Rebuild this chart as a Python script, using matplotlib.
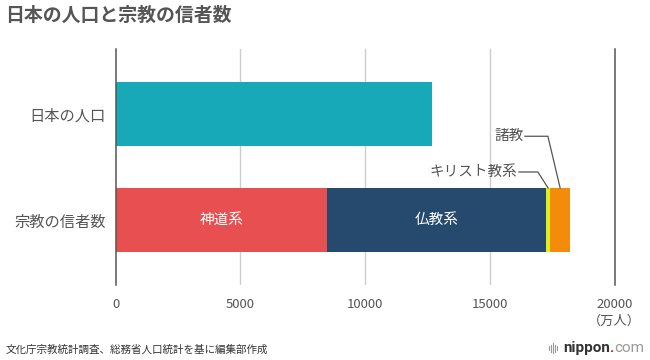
import matplotlib
matplotlib.use("Agg")
import matplotlib.pyplot as plt
from matplotlib.lines import Line2D
import numpy as np

plt.rcParams['font.family'] = ['Noto Sans CJK JP', 'DejaVu Sans']

# データ（万人）
categories = ['宗教の信者数', '日本の人口']
population = 12693
religion_names = ['神道系', '仏教系', 'キリスト教系', '諸教']
religion_values = [8473, 8770, 191, 773]
xticks = [0, 5000, 10000, 15000, 20000]
xtick_labels = ['0', '5000', '10000', '15000', '20000\n（万人）']

colors = ['#E84F50', '#254A6E', '#E2EE1C', '#F38B0B']
teal = '#17A9B8'
gray = '#555555'

fig = plt.figure(figsize=(6.5, 3.6), dpi=100)
ax = fig.add_axes([0.1777, 0.2083, 0.7677, 0.6556])

h = 0.604
ax.barh(1, population, height=h, color=teal)
left = 0
for name, v, c in zip(religion_names, religion_values, colors):
    ax.barh(0, v, left=left, height=h, color=c)
    if v > 3000:
        ax.text(left + v / 2, 0, name, color='white', ha='center', va='center', fontsize=10.5)
    left += v

# 小さい区分の引き出し線
cum = np.cumsum([0] + religion_values)
leaders = [(2, 0.453, 410, 760), (3, 0.79, 490, 920)]
for i, ty, dx, tx in leaders:
    ax_x = cum[i] + religion_values[i] / 2
    ex = ax_x - dx
    sx = ex - tx
    ax.plot([sx, ex, ax_x], [ty, ty, h / 2], color=gray, lw=0.9, clip_on=False)
    ax.text(sx - 70, ty, religion_names[i], ha='right', va='center', fontsize=10.5, color=gray)

ax.set_xlim(0, 20000)
ax.set_ylim(-0.613, 1.613)
ax.set_xticks(xticks)
ax.set_xticklabels(xtick_labels, fontsize=9.5, color=gray, linespacing=1.4)
ax.set_yticks([0, 1])
ax.set_yticklabels(categories, fontsize=11, color=gray)
ax.tick_params(axis='x', length=0, pad=9)
ax.tick_params(axis='y', length=0, pad=7)
for v in xticks[1:-1]:
    ax.axvline(v, color='#cccccc', lw=1, zorder=0)
for s in ['top', 'bottom']:
    ax.spines[s].set_visible(False)
for s in ['left', 'right']:
    ax.spines[s].set_color(gray)
    ax.spines[s].set_linewidth(1.1)
ax.spines['left'].set_zorder(5)

fig.text(0.008, 0.958, '日本の人口と宗教の信者数', fontsize=13.6, fontweight='bold', color=gray, va='center')
fig.text(0.008, 0.028, '文化庁宗教統計調査、総務省人口統計を基に編集部作成', fontsize=7.6, color='#333333', va='center')

# ロゴ
fig.canvas.draw()
r = fig.canvas.get_renderer()
t3 = fig.text(644 / 650, 12 / 360, 'com', fontsize=11, color='#999999', ha='right', va='center', family='Roboto')
w3 = t3.get_window_extent(r).width
t2 = fig.text((644 - w3) / 650, 12 / 360, '.', fontsize=11, color='#E60012', ha='right', va='center', fontweight='bold', family='Roboto')
w2 = t2.get_window_extent(r).width
t1 = fig.text((644 - w3 - w2) / 650, 12 / 360, 'nippon', fontsize=11, color='#333333', ha='right', va='center', fontweight='bold', family='Roboto')
w1 = t1.get_window_extent(r).width
x0 = 644 - w3 - w2 - w1 - 4
for k, hh in enumerate([4, 7, 10, 7, 4]):
    xx = (x0 - 10 + k * 2) / 650
    fig.add_artist(Line2D([xx, xx], [(12 - hh / 2) / 360, (12 + hh / 2) / 360], color='#999999', lw=0.8, transform=fig.transFigure))

fig.savefig('out.png', dpi=100)
